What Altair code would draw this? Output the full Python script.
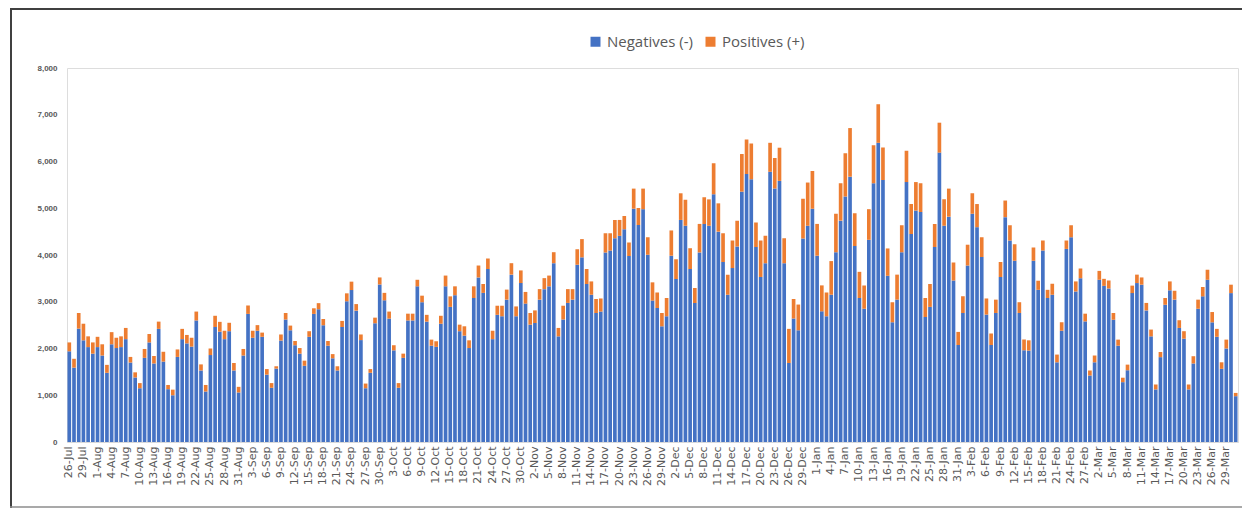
import altair as alt
import pandas as pd

# Daily test results, 26-Jul-2020 .. 31-Mar-2021
NEG = [
    1940, 1590, 2425, 2175, 2030, 1890, 2030, 1850, 1480, 2090,
    2010, 2030, 2200, 1700, 1380, 1150, 1800, 2130, 1680, 2420,
    1720, 1130, 1000, 1820, 2200, 2110, 2040, 2600, 1530, 1080,
    1860, 2460, 2360, 2200, 2370, 1530, 1060, 1850, 2740, 2230,
    2380, 2250, 1440, 1160, 1570, 2170, 2620, 2390, 2070, 1890,
    1630, 2250, 2740, 2840, 2500, 2060, 1790, 1530, 2460, 3010,
    3250, 2810, 2180, 1150, 1480, 2540, 3370, 3030, 2640, 1960,
    1160, 1800, 2600, 2600, 3330, 2990, 2575, 2060, 2035, 2530,
    3330, 2890, 3140, 2370, 2275, 2010, 3080, 3520, 3190, 3700,
    2200, 2720, 2690, 3045, 3580, 2690, 3400, 2960, 2510, 2545,
    3045, 3270, 3330, 3825, 2260, 2620, 2975, 3045, 3790, 3950,
    3380, 3150, 2760, 2790, 4055, 4095, 4360, 4410, 4550, 3980,
    4990, 4640, 4980, 4005, 3025, 2865, 2475, 2690, 3985, 3485,
    4750, 4625, 3700, 2975, 4055, 4665, 4625, 5300, 4500, 3850,
    3150, 3720, 4180, 5355, 5730, 5620, 4170, 3530, 3825, 5780,
    5425, 5585, 3825, 1690, 2640, 2390, 4355, 4625, 4990, 3985,
    2795, 2690, 3150, 4060, 4735, 5250, 5675, 4195, 3080, 2850,
    4325, 5535, 6400, 5605, 3555, 2560, 3045, 4060, 5560, 4450,
    4950, 4920, 2675, 2890, 4170, 6190, 4625, 4820, 3455, 2075,
    2760, 3775, 4880, 4595, 3955, 2725, 2075, 2760, 3530, 4810,
    4310, 3875, 2760, 1965, 1955, 3875, 3255, 4095, 3080, 3150,
    1705, 2380, 4130, 4380, 3220, 3505, 2580, 1420, 1705, 3470,
    3340, 3285, 2615, 2060, 1280, 1535, 3185, 3400, 3365, 2815,
    2260, 1125, 1815, 2935, 3245, 3045, 2440, 2210, 1125, 1680,
    2850, 3115, 3470, 2560, 2250, 1565, 2000, 3185, 980,
]
POS = [
    190, 190, 335, 355, 230, 240, 220, 240, 170, 260,
    220, 230, 240, 120, 110, 110, 190, 180, 160, 155,
    210, 90, 120, 160, 220, 180, 190, 190, 130, 140,
    140, 240, 210, 180, 180, 160, 120, 140, 180, 150,
    120, 90, 120, 100, 50, 130, 140, 100, 90, 120,
    110, 120, 120, 130, 130, 100, 90, 90, 130, 170,
    180, 140, 120, 100, 80, 120, 150, 160, 150, 110,
    100, 90, 145, 145, 140, 140, 145, 130, 120, 170,
    230, 225, 190, 140, 200, 165, 250, 255, 190, 225,
    180, 195, 225, 215, 245, 210, 270, 250, 250, 270,
    225, 235, 230, 235, 180, 295, 295, 225, 335, 390,
    320, 285, 300, 280, 410, 370, 390, 340, 285, 290,
    430, 365, 440, 375, 390, 335, 285, 390, 540, 425,
    570, 555, 445, 320, 610, 570, 565, 660, 605, 615,
    430, 590, 555, 805, 740, 765, 525, 780, 585, 620,
    650, 710, 535, 730, 420, 550, 850, 925, 805, 680,
    555, 510, 720, 820, 800, 925, 1040, 700, 560, 500,
    655, 810, 825, 695, 585, 430, 535, 575, 670, 640,
    610, 615, 405, 490, 495, 640, 565, 600, 385, 280,
    355, 445, 440, 495, 425, 345, 245, 285, 320, 355,
    325, 355, 230, 225, 220, 285, 195, 215, 175, 235,
    165, 180, 180, 255, 215, 205, 165, 110, 145, 190,
    150, 170, 145, 130, 95, 120, 160, 180, 155, 160,
    145, 105, 110, 145, 190, 190, 165, 160, 105, 155,
    195, 200, 215, 220, 170, 140, 190, 180, 70,
]
DATES = pd.date_range("2020-07-26", "2021-03-31", freq="D")
LABELS = [f"{d.day}-{d.strftime('%b')}" for d in DATES]
TICK_LABELS = LABELS[::3]
SERIES = ["Negatives (-)", "Positives (+)"]
COLORS = ["#4472C4", "#ED7D31"]
Y_TICKS = [0, 1000, 2000, 3000, 4000, 5000, 6000, 7000, 8000]

assert len(NEG) == len(POS) == len(LABELS)

rows = []
for lab, n, p in zip(LABELS, NEG, POS):
    rows.append({"date": lab, "series": SERIES[0], "value": n, "ord": 0})
    rows.append({"date": lab, "series": SERIES[1], "value": p, "ord": 1})
df = pd.DataFrame(rows)

W, H = 1171, 374
PAD = {"left": 59, "top": 60, "right": 4, "bottom": 66}

bars = alt.Chart(df).mark_bar().encode(
    x=alt.X(
        "date:N",
        sort=LABELS,
        scale=alt.Scale(paddingInner=0.22, paddingOuter=0.1),
        axis=alt.Axis(
            title=None,
            values=TICK_LABELS,
            labelAngle=270,
            labelAlign="right",
            labelBaseline="middle",
            labelFont="DejaVu Sans",
            labelFontSize=11,
            labelColor="#595959",
            labelPadding=4,
            ticks=False,
            domainColor="#d9d9d9",
            domainWidth=1,
            labelOverlap=False,
        ),
    ),
    y=alt.Y(
        "value:Q",
        stack="zero",
        scale=alt.Scale(domain=[0, 8000], nice=False),
        axis=alt.Axis(
            title=None,
            values=Y_TICKS,
            format=",.0f",
            grid=False,
            domain=False,
            ticks=False,
            labelFont="Liberation Sans",
            labelFontSize=8,
            labelFontWeight="bold",
            labelColor="#595959",
            labelPadding=10,
        ),
    ),
    color=alt.Color(
        "series:N",
        scale=alt.Scale(domain=SERIES, range=COLORS),
        legend=alt.Legend(
            title=None,
            orient="none",
            legendX=521,
            legendY=-34,
            direction="horizontal",
            symbolType="square",
            symbolSize=100,
            symbolStrokeWidth=0,
            labelFont="Open Sans",
            labelFontSize=15,
            labelColor="#595959",
            labelOffset=4,
            columnPadding=10,
        ),
    ),
    order=alt.Order("ord:Q", sort="ascending"),
)

frame_data = alt.Data(values=[{"k": 1}])
left_line = alt.Chart(frame_data).mark_rule(color="#404040", strokeWidth=2).encode(
    x=alt.value(-56), y=alt.value(-60), y2=alt.value(H + PAD["bottom"])
)
top_line = alt.Chart(frame_data).mark_rule(color="#404040", strokeWidth=2).encode(
    x=alt.value(-57), x2=alt.value(W + PAD["right"]), y=alt.value(-59)
)
bottom_line = alt.Chart(frame_data).mark_rule(color="#8c8c8c", strokeWidth=1.5).encode(
    x=alt.value(-57), x2=alt.value(W + PAD["right"]), y=alt.value(H + PAD["bottom"] - 1)
)

chart = alt.layer(bars, left_line, top_line, bottom_line).properties(
    width=W,
    height=H,
    padding=PAD,
    autosize=alt.AutoSizeParams(type="none"),
).configure_view(stroke=None).configure(background="white")

chart.save("out.html", embed_options={"renderer": "svg", "actions": False})
